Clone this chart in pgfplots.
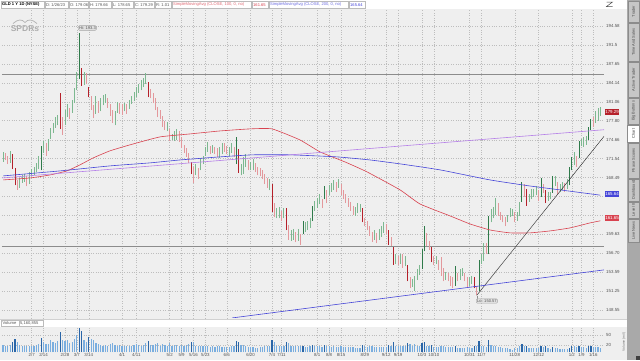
\documentclass[border=0pt]{standalone}
\usepackage{pgfplots}
\pgfplotsset{compat=1.18}
\usepackage{pgfplotstable}
\usepackage{fontspec}
\setmainfont{Liberation Sans}
\definecolor{chartbg}{HTML}{EFEFEF}
\definecolor{gridc}{HTML}{BDBDBD}
\definecolor{pgreen}{HTML}{7DB890}
\definecolor{dgreen}{HTML}{2F7A4A}
\definecolor{pred}{HTML}{E3989C}
\definecolor{dred}{HTML}{B5202A}
\definecolor{smared}{HTML}{D8424F}
\definecolor{smablue}{HTML}{4545D8}
\definecolor{purp}{HTML}{B57FE8}
\definecolor{hline}{HTML}{8C8C8C}
\definecolor{vlight}{HTML}{7AAEDF}
\definecolor{vdark}{HTML}{2A66A8}
\definecolor{txt}{HTML}{555555}
\definecolor{boxline}{HTML}{BBBBBB}
\definecolor{sidebg}{HTML}{A9A9A9}
\definecolor{tabc}{HTML}{C6C6C6}
\newcommand\tf{\fontsize{4.1}{5}\selectfont}
\newcommand\tg{\fontsize{4.4}{5}\selectfont}

\pgfplotstableread{
i lo hi c v
-5 171.0 172.6 0 22
-4 171.2 172.4 2 19
-3 170.6 172.0 2 19
-2 170.8 172.8 0 22
-1 169.8 172.2 3 29
0 167.2 170.0 3 38
1 166.5 168.0 2 29
2 166.8 168.3 0 22
3 167.6 168.9 0 19
4 167.8 169.0 0 17
5 167.0 168.6 2 19
6 167.4 169.4 0 19
7 168.6 169.8 0 17
8 168.8 170.2 0 19
9 169.4 170.8 0 22
10 169.8 171.9 0 24
11 169.6 173.6 1 41
12 172.4 174.4 0 29
13 172.0 174.0 2 24
14 172.8 174.8 0 24
15 174.8 176.6 0 34
16 175.8 177.4 0 29
17 176.6 178.4 0 26
18 177.0 178.8 0 31
19 176.4 182.6 3 60
20 175.4 178.4 2 36
21 177.0 179.6 0 31
22 178.4 180.6 0 34
23 178.0 180.0 2 26
24 179.2 181.4 0 29
25 180.8 183.4 0 38
26 183.0 186.2 0 50
27 185.0 193.3 1 72
28 183.8 187.0 3 62
29 184.0 186.2 0 36
30 184.2 186.0 2 29
31 181.8 183.6 3 43
32 179.6 182.0 2 38
33 178.2 180.4 2 36
34 179.0 182.0 0 26
35 179.2 181.2 2 24
36 179.4 181.6 0 22
37 180.4 182.2 0 19
38 180.8 182.4 0 22
39 180.0 181.6 2 19
40 178.6 180.6 2 24
41 177.4 179.6 2 26
42 177.0 179.4 0 22
43 179.2 181.0 0 19
44 179.0 180.8 2 22
45 178.8 180.6 2 19
46 179.4 180.8 0 17
47 179.0 180.6 2 17
48 179.8 181.4 0 19
49 180.6 182.0 0 19
50 181.2 182.8 0 22
51 181.8 183.6 0 24
52 182.6 184.2 0 22
53 183.0 184.8 0 19
54 183.6 185.2 0 22
55 184.2 186.0 0 26
56 181.8 184.4 3 31
57 181.6 183.2 2 22
58 180.8 182.6 2 22
59 179.6 181.6 2 24
60 178.4 180.2 2 26
61 178.0 179.6 2 19
62 176.8 178.6 2 24
63 176.2 177.8 2 22
64 176.0 177.6 0 19
65 174.4 176.4 2 26
66 174.6 175.6 0 19
67 174.4 176.0 0 22
68 174.6 176.4 0 22
69 174.2 176.0 2 19
70 173.2 175.0 2 22
71 172.4 173.8 2 19
72 171.8 173.2 2 22
73 170.8 172.4 2 24
74 169.0 171.0 3 29
75 167.6 170.2 2 29
76 168.8 170.6 0 19
77 168.2 170.0 2 19
78 169.6 171.6 0 17
79 170.6 172.0 0 19
80 172.0 173.4 0 19
81 172.6 174.2 0 17
82 172.2 173.6 2 14
83 172.4 173.8 0 17
84 172.2 173.4 2 14
85 171.8 173.2 2 17
86 171.6 173.4 0 17
87 172.2 174.0 0 14
88 172.6 174.0 2 14
89 172.2 173.6 2 14
90 172.0 173.4 0 14
91 172.4 174.0 0 17
92 171.8 173.4 2 17
93 170.6 175.0 1 31
94 169.2 173.0 3 29
95 168.8 170.6 0 22
96 169.0 171.8 0 22
97 170.2 172.2 0 19
98 169.6 171.2 2 14
99 169.6 171.0 0 14
100 169.6 171.4 0 14
101 169.4 170.8 2 12
102 168.8 170.2 2 12
103 168.6 170.0 2 14
104 168.2 169.6 2 14
105 167.4 169.0 2 17
106 166.8 168.4 2 19
107 166.4 168.2 0 17
108 163.0 167.4 3 34
109 162.2 164.4 2 29
110 162.0 163.6 0 19
111 162.0 163.8 0 17
112 161.6 163.2 2 17
113 162.0 163.6 0 17
114 160.2 163.6 3 29
115 158.8 161.0 2 26
116 158.6 160.2 0 19
117 158.8 160.4 0 17
118 158.4 160.0 2 17
119 158.6 160.4 0 17
120 158.0 159.6 2 19
121 159.6 161.6 1 19
122 160.0 161.4 0 14
123 160.2 161.6 0 14
124 160.6 162.0 0 17
125 161.6 164.0 1 22
126 163.2 164.8 0 17
127 163.6 165.2 0 17
128 164.2 165.8 0 17
129 163.6 165.0 2 14
130 165.0 167.0 1 22
131 164.4 166.4 2 19
132 165.6 167.2 0 17
133 166.2 167.6 0 14
134 166.4 168.0 0 17
135 166.2 167.8 2 14
136 166.8 168.2 0 14
137 165.6 167.4 2 17
138 165.0 166.4 2 14
139 164.4 165.8 2 14
140 163.8 165.2 2 14
141 163.2 164.6 2 14
142 162.6 164.0 2 14
143 162.4 163.8 0 12
144 162.8 164.4 0 12
145 163.0 164.2 0 12
146 161.4 163.6 3 22
147 160.8 162.0 2 17
148 160.2 161.6 2 14
149 159.4 160.8 2 17
150 158.4 160.0 2 19
151 158.8 160.2 0 14
152 158.2 159.8 2 14
153 158.8 160.4 0 14
154 159.2 160.8 0 14
155 159.8 161.4 0 14
156 159.6 161.2 2 14
157 158.0 160.2 3 22
158 157.8 159.2 2 17
159 155.0 157.6 3 29
160 155.2 156.6 0 19
161 155.0 156.4 2 17
162 155.2 156.6 0 17
163 154.6 156.6 2 19
164 154.8 156.4 0 17
165 152.6 155.0 3 26
166 151.6 153.2 2 24
167 151.8 153.0 0 19
168 151.2 153.4 0 24
169 152.8 154.4 0 19
170 153.6 155.0 0 17
171 154.4 157.4 1 26
172 157.0 160.8 1 29
173 157.8 159.8 2 19
174 157.2 158.6 2 17
175 155.4 157.6 3 22
176 155.0 156.4 2 14
177 155.2 156.4 0 14
178 154.2 155.8 2 14
179 153.4 156.2 2 19
180 152.6 154.6 2 19
181 152.8 154.0 0 14
182 152.6 153.8 2 14
183 152.0 153.4 2 14
184 151.6 153.2 2 14
185 152.0 154.8 1 19
186 152.6 153.8 2 12
187 152.8 154.4 0 12
188 153.4 154.6 0 12
189 152.6 153.8 2 12
190 151.8 153.2 2 14
191 152.0 153.2 0 12
192 152.2 153.4 0 12
193 151.6 153.2 3 17
194 150.57 152.0 2 19
195 151.2 155.8 1 31
196 155.2 156.6 0 17
197 155.6 158.2 0 19
198 156.6 158.2 2 14
199 156.6 162.4 1 36
200 161.4 163.4 0 22
201 162.0 163.8 0 17
202 162.6 165.2 0 19
203 162.4 164.4 2 14
204 161.8 163.0 2 14
205 161.4 162.6 2 12
206 160.8 162.2 2 12
207 161.4 162.6 0 12
208 162.2 163.6 0 10
209 162.4 163.4 0 7
210 161.4 163.0 2 12
211 161.6 163.0 0 12
212 162.4 164.6 0 17
213 164.6 167.8 1 24
214 165.4 167.4 2 17
215 164.0 166.6 3 17
216 164.6 165.8 0 12
217 165.0 166.6 0 12
218 165.4 166.6 0 12
219 165.6 167.0 0 12
220 164.8 166.4 2 12
221 165.4 168.4 1 19
222 166.0 167.4 2 14
223 164.4 166.4 3 17
224 164.8 166.2 0 12
225 165.0 166.2 0 10
226 166.0 168.6 1 14
227 167.0 168.6 0 12
228 165.8 167.8 2 12
229 166.2 167.4 0 10
230 166.4 167.8 0 10
231 166.2 167.6 2 10
232 166.6 168.2 0 10
233 167.2 170.2 1 12
234 169.6 171.8 1 17
235 170.4 172.6 0 17
236 170.2 172.0 2 14
237 171.6 174.4 1 19
238 173.6 174.8 0 14
239 173.4 175.0 0 14
240 173.8 175.2 0 12
241 174.6 176.8 1 19
242 176.2 178.0 1 17
243 176.8 178.4 2 14
244 177.4 179.4 0 14
245 177.8 180.0 0 14
246 178.6 180.2 0 12
}\bars

\pgfplotsset{ohlc/.style={draw=none,mark=none,forget plot,
  restrict expr to domain={\thisrow{c}}{#1:#1},
  error bars/.cd,y dir=plus,y explicit,error mark=none}}

\begin{document}
\begin{tikzpicture}[x=1pt,y=1pt]
\fill[white] (0,0) rectangle (640,360);
\fill[chartbg] (0,0) rectangle (627,351);
% header band
\fill[white] (0,351) rectangle (627,360);
\foreach \a/\b in {1/44,45/68,69/88,89/111,112/133,134/154,155/171,172/251,252/268,269/348,349/365}
  \draw[boxline,line width=0.4pt] (\a,351.6) rectangle (\b,359.2);
\node[anchor=west,inner sep=0pt,font=\tf\bfseries] at (2,355.4) {GLD 1 Y 1D (NYSE)};
\node[anchor=west,inner sep=0pt,font=\tf,text=txt] at (46,355.4) {D: 1/26/23};
\node[anchor=west,inner sep=0pt,font=\tf,text=txt] at (70,355.4) {O: 179.06};
\node[anchor=west,inner sep=0pt,font=\tf,text=txt] at (90,355.4) {H: 179.66};
\node[anchor=west,inner sep=0pt,font=\tf,text=txt] at (113,355.4) {L: 178.65};
\node[anchor=west,inner sep=0pt,font=\tf,text=txt] at (135,355.4) {C: 179.29};
\node[anchor=west,inner sep=0pt,font=\tf,text=txt] at (156,355.4) {R: 1.01};
\node[anchor=west,inner sep=0pt,font=\tf,text=smared!80] at (173,355.4) {SimpleMovingAvg (CLOSE, 100, 0, no)};
\node[anchor=west,inner sep=0pt,font=\tf,text=smared] at (253,355.4) {161.65};
\node[anchor=west,inner sep=0pt,font=\tf,text=smablue!80] at (270,355.4) {SimpleMovingAvg (CLOSE, 200, 0, no)};
\node[anchor=west,inner sep=0pt,font=\tf,text=smablue] at (350,355.4) {165.64};
% zoom icon
\draw[black!70,line width=0.5pt] (606.5,358) -- (612.5,358) -- (606.5,353.5) -- (612.5,353.5);
% separators / volume header band
\fill[white] (0,33) rectangle (627,40);
\fill[black!18] (0,40) rectangle (627,41.5);
\draw[boxline,line width=0.4pt] (1.5,33.6) rectangle (19,39.6);
\draw[boxline,line width=0.4pt] (19,33.6) rectangle (43,39.6);
\node[anchor=west,inner sep=0pt,font=\tf,text=txt] at (2.5,36.6) {Volume};
\node[anchor=west,inner sep=0pt,font=\tf,text=txt] at (20,36.6) {5,160,855};
% SPDRs logo
\draw[black!30,line width=0.7pt] (13,336.5) .. controls (18,341) and (22,341) .. (25,337.5) .. controls (28,341) and (32,341) .. (37,336.5);
\node[font=\fontsize{8.5}{9}\selectfont\bfseries,text=black!32,inner sep=0pt] at (25,331) {SPDRs};

% ===== price panel =====
\begin{axis}[at={(2pt,42pt)},anchor=south west,scale only axis,
  width=602pt,height=308pt,
  xmin=-5.46,xmax=247.5,ymode=log,ymin=147.38,ymax=197.57,
  axis line style={draw=none},tick style={draw=none},
  xtick={7,12,21,26,31,45,51,65,70,75,80,89,99,108,112,127,132,137,147,156,161,171,176,191,196,210,220,234,238,243},
  xticklabels={},
  ytick={148.45,151.15,153.91,156.71,159.56,162.46,165.42,168.43,171.49,174.61,177.79,181.03,184.32,187.68,191.10,194.58},
  yticklabels={148.55,151.25,153.59,156.70,159.63,{},{},168.49,171.54,174.66,177.80,181.06,184.14,187.65,191.5,194.58},
  yticklabel pos=right,
  yticklabel style={anchor=west,font=\tg,text=txt,inner sep=0.5pt,xshift=1.5pt},
  grid=major,major grid style={gridc,dotted,line width=0.45pt},
  clip=true]
\addplot[hline,line width=0.5pt,forget plot] coordinates {(-5.46,185.89) (247.5,185.89)};
\addplot[hline,line width=0.5pt,forget plot] coordinates {(-5.46,157.83) (247.5,157.83)};
\addplot[ohlc=0,error bar style={draw=pgreen,line width=0.85pt}]
  table[x=i,y=lo,y error plus expr=\thisrow{hi}-\thisrow{lo}] {\bars};
\addplot[ohlc=1,error bar style={draw=dgreen,line width=0.85pt}]
  table[x=i,y=lo,y error plus expr=\thisrow{hi}-\thisrow{lo}] {\bars};
\addplot[ohlc=2,error bar style={draw=pred,line width=0.85pt}]
  table[x=i,y=lo,y error plus expr=\thisrow{hi}-\thisrow{lo}] {\bars};
\addplot[ohlc=3,error bar style={draw=dred,line width=0.85pt}]
  table[x=i,y=lo,y error plus expr=\thisrow{hi}-\thisrow{lo}] {\bars};
% moving averages
\addplot[smared,line width=0.6pt,smooth,tension=0.3] coordinates {(-5,168.06) (6.3,168.38) (14.7,168.86) (21.8,169.51) (27.3,170.48) (32.8,171.61) (39.9,172.77) (48.3,173.75) (60.9,175.08) (73.5,175.58) (86.1,176.08) (98.7,176.41) (108,176.41) (119.7,174.58) (128.2,172.60) (138.7,170.96) (147.9,169.35) (161.8,166.47) (170.2,164.26) (182.8,162.40) (191.2,161.17) (199.6,160.25) (208,159.80) (216.4,159.80) (224.8,160.10) (233.2,160.56) (241.6,161.32) (246,161.65)};
\addplot[smablue,line width=0.6pt,smooth,tension=0.3] coordinates {(-5,168.70) (18.9,169.51) (39.9,170.32) (56.7,170.80) (69.3,171.29) (86.1,171.78) (100,172.11) (115.5,172.11) (135.3,171.78) (149.2,171.29) (161.8,170.64) (178.6,169.67) (199.6,168.06) (216.4,167.10) (229,166.47) (246,165.64)};
% trend lines
\addplot[purp,line width=0.6pt] coordinates {(-5.46,168.38) (247.5,176.27)};
\addplot[black!80,line width=0.45pt] coordinates {(194,150.57) (247.5,175.16)};
\addplot[smablue,line width=0.6pt] coordinates {(91.2,147.38) (247.5,154.27)};
\end{axis}

% ===== volume panel =====
\begin{axis}[at={(2pt,8pt)},anchor=south west,scale only axis,
  width=602pt,height=25pt,
  xmin=-5.46,xmax=247.5,ymin=0,ymax=73.5,
  axis line style={draw=none},tick style={draw=none},
  xtick={7,12,21,26,31,45,51,65,70,75,80,89,99,108,112,127,132,137,147,156,161,171,176,191,196,210,220,234,238,243},
  xticklabels={2/7,2/14,2/28,3/7,3/14,4/1,4/11,5/2,5/9,5/16,5/23,6/6,6/20,7/4,7/11,8/1,8/8,8/15,8/29,9/12,9/19,10/3,10/10,10/31,11/7,11/28,12/12,1/2,1/9,1/16},
  xticklabel style={font=\tg,text=txt,inner sep=0.5pt,yshift=-0.3pt},
  ytick={20,50},yticklabels={20,50},
  yticklabel pos=right,
  yticklabel style={anchor=west,font=\tg,text=txt,inner sep=0.5pt,xshift=1.5pt},
  grid=major,major grid style={gridc,dotted,line width=0.45pt},
  clip=true]
\addplot[ycomb,vlight,line width=1.2pt,restrict expr to domain={\thisrow{c}}{0:0}] table[x=i,y=v] {\bars};
\addplot[ycomb,vlight,line width=1.2pt,restrict expr to domain={\thisrow{c}}{2:2}] table[x=i,y=v] {\bars};
\addplot[ycomb,vdark,line width=1.2pt,restrict expr to domain={\thisrow{c}}{1:1}] table[x=i,y=v] {\bars};
\addplot[ycomb,vdark,line width=1.2pt,restrict expr to domain={\thisrow{c}}{3:3}] table[x=i,y=v] {\bars};
\end{axis}

% right-hand value flags
\node[fill=dred,text=white,font=\tg,inner sep=0.6pt,anchor=west,minimum height=6pt] at (604.5,248) {179.29};
\node[fill=smablue,text=white,font=\tg,inner sep=0.6pt,anchor=west,minimum height=6pt] at (604.5,166.5) {165.64};
\node[fill=smared,text=white,font=\tg,inner sep=0.6pt,anchor=west,minimum height=6pt] at (604.5,142) {161.65};
% Hi / Lo callouts
\node[draw=black!35,fill=black!12,rounded corners=1.2pt,font=\tf,text=txt,inner sep=0.8pt,anchor=south west] at (78,329.5) {Hi: 193.3};
\draw[black!45,line width=0.4pt] (477.5,64) -- (477.5,61.5);
\node[draw=black!35,fill=black!12,rounded corners=1.2pt,font=\tf,text=txt,inner sep=0.8pt,anchor=north west] at (476,61.5) {Lo: 150.57};

% ===== sidebar =====
\fill[sidebg] (627,0) rectangle (640,360);
\foreach \a/\b/\t in {338/359/Trader,299/337/Time And Sales,263/298/Active Trader,236/262/Big Buttons,182/217/Phase Scores,159/181/Dashboard,142/158/Level II,118/141/Live News}{
  \fill[tabc] (628,\a) rectangle (639,\b);
  \draw[black!45,line width=0.3pt] (628,\a) rectangle (639,\b);
  \node[rotate=90,font=\fontsize{3.9}{4}\selectfont,text=black!70,inner sep=0pt] at (633.5,{(\a+\b)/2}) {\t};
}
\fill[white] (627,218) rectangle (639,235);
\draw[black!45,line width=0.3pt] (627,218) rectangle (639,235);
\node[rotate=90,font=\fontsize{3.9}{4}\selectfont,text=black!80,inner sep=0pt] at (633.5,226.5) {Chart};
\node[rotate=90,font=\fontsize{3.4}{4}\selectfont,text=black!55,inner sep=0pt] at (624,18) {Volume (mil)};
\fill[black!75] (636,0) rectangle (640,4);
\end{tikzpicture}
\end{document}
